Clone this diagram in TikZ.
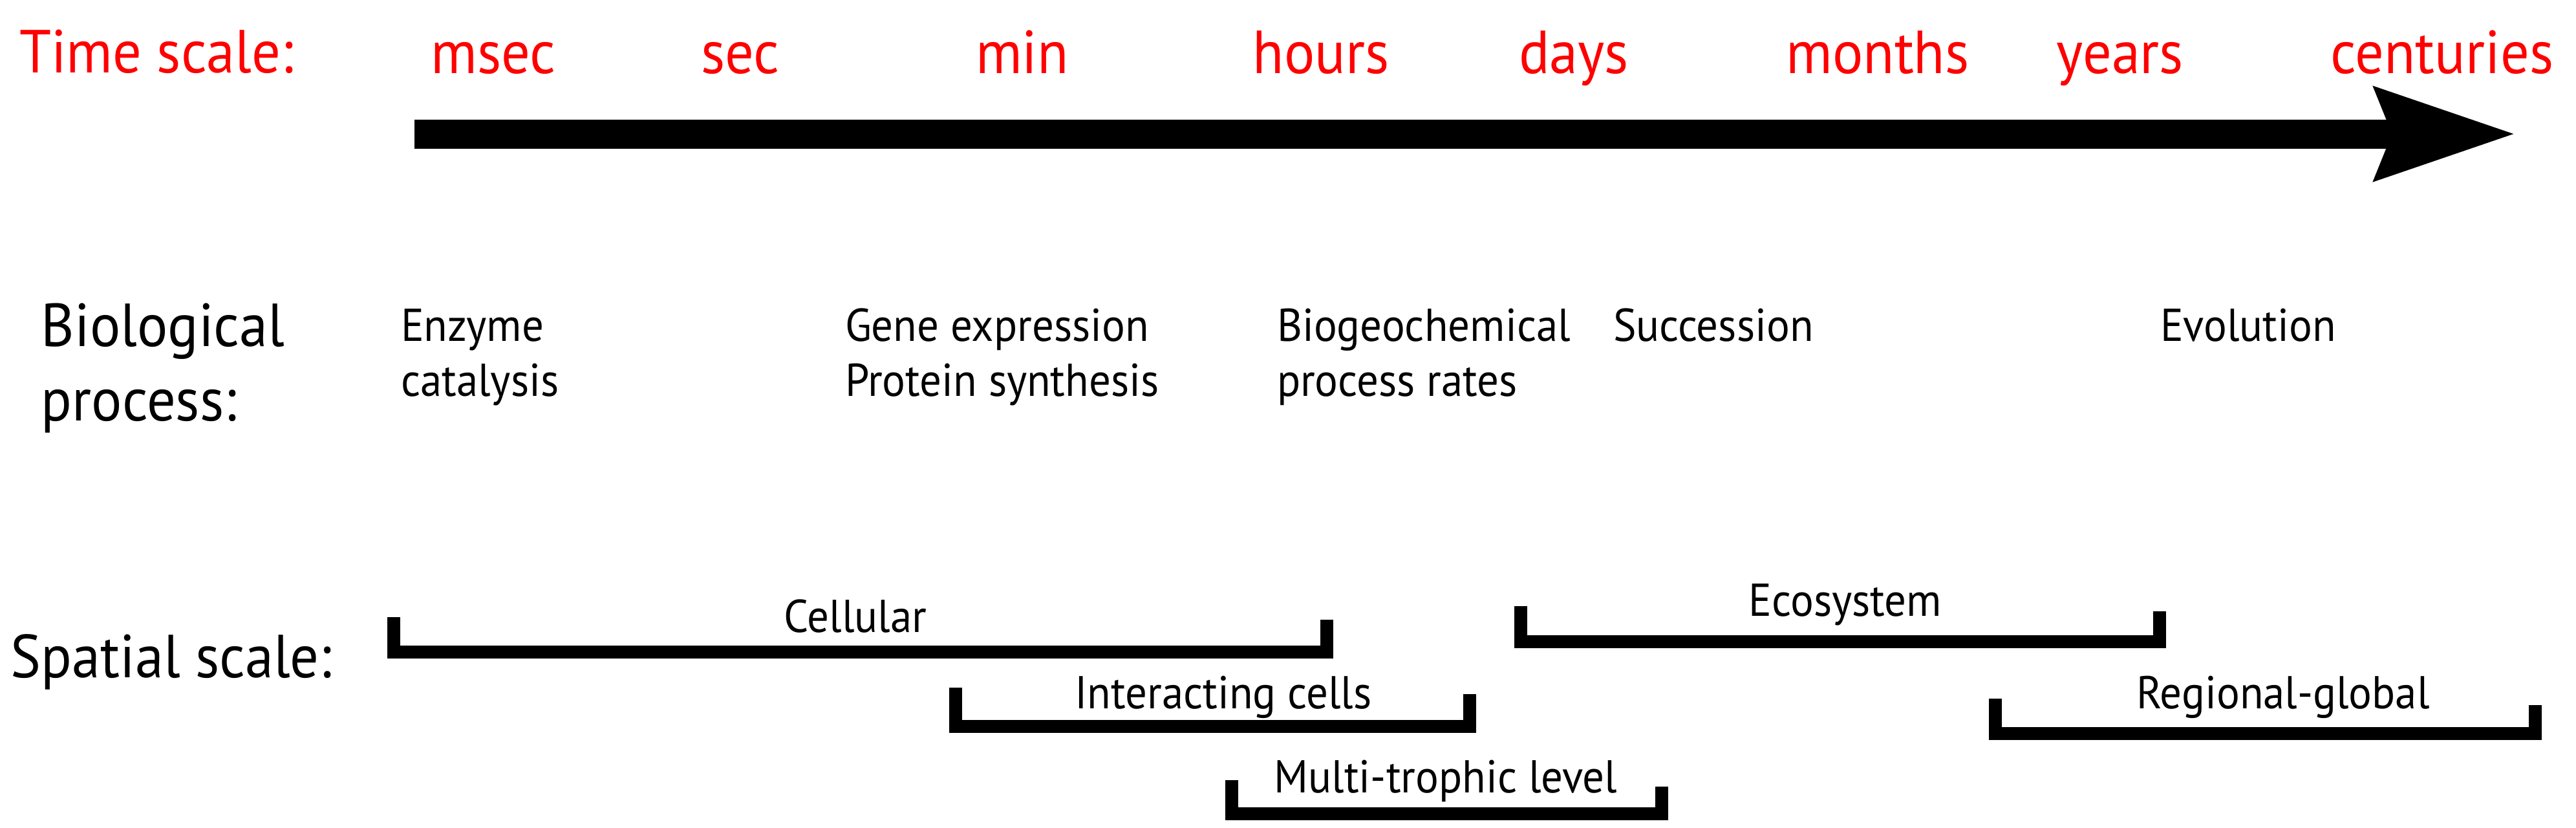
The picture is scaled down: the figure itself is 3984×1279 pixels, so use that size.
\documentclass[tikz,border=0pt]{standalone}
\usepackage{fontspec}
\setmainfont{PT Sans}[FakeStretch=0.94]
\usetikzlibrary{arrows.meta}
\definecolor{tred}{RGB}{255,0,0}
\tikzset{
  biglbl/.style={inner sep=0pt, outer sep=0pt, anchor=base west, font=\fontsize{23.5}{28}\selectfont},
  timelbl/.style={inner sep=0pt, outer sep=0pt, anchor=base, text=tred, font=\fontsize{23.5}{28}\selectfont},
  proclbl/.style={inner sep=0pt, outer sep=0pt, anchor=base west, font=\fontsize{17.8}{21}\selectfont},
  brlbl/.style={inner sep=0pt, outer sep=0pt, anchor=base, font=\fontsize{17.8}{21}\selectfont},
  bracketline/.style={line width=5pt, line join=miter, line cap=butt, black},
  timearrow/.style={line width=11.25pt, line cap=butt, -{Stealth[length=53.75pt, width=34.25pt, inset=5.75pt]}}
}
\begin{document}
\begin{tikzpicture}[x=0.25pt, y=-0.25pt]
\useasboundingbox (0,0) rectangle (3984,1279);
% time row
\node[biglbl, text=tred] (tlabel) at (30,112) {Time scale:};
\node[timelbl] (msec) at (763,113) {msec};
\node[timelbl] (sec) at (1145,113) {sec};
\node[timelbl] (min) at (1581,113) {min};
\node[timelbl] (hours) at (2043,113) {hours};
\node[timelbl] (days) at (2434,113) {days};
\node[timelbl] (months) at (2904,113) {months};
\node[timelbl] (years) at (3279,113) {years};
\node[timelbl] (centuries) at (3777,113) {centuries};
% arrow
\coordinate (ts) at (641,207);
\coordinate (te) at (3892,207);
\draw[timearrow] (ts) -- (te);
% biological process row
\node[biglbl] (bio1) at (64,535) {Biological};
\node[biglbl] (bio2) at (64,650) {process:};
\node[proclbl] (enz1) at (620,527) {Enzyme};
\node[proclbl] (enz2) at (620,612) {catalysis};
\node[proclbl] (gene1) at (1307,527) {Gene expression};
\node[proclbl] (gene2) at (1307,612) {Protein synthesis};
\node[proclbl] (bgc1) at (1975,527) {Biogeochemical};
\node[proclbl] (bgc2) at (1975,612) {process rates};
\node[proclbl] (succ) at (2495,527) {Succession};
\node[proclbl] (evol) at (3341,527) {Evolution};
% spatial scale
\node[biglbl] (spat) at (17,1047) {Spatial scale:};
\draw[bracketline] (609,954) -- (609,1008) -- (2052,1008) -- (2052,958);
\node[brlbl] (cell) at (1323,977) {Cellular};
\draw[bracketline] (1478,1063) -- (1478,1123) -- (2273,1123) -- (2273,1073);
\node[brlbl] (inter) at (1892,1095) {Interacting cells};
\draw[bracketline] (1905,1206) -- (1905,1258) -- (2570,1258) -- (2570,1216);
\node[brlbl] (multi) at (2236,1225) {Multi-trophic level};
\draw[bracketline] (2352,937) -- (2352,992) -- (3340,992) -- (3340,945);
\node[brlbl] (eco) at (2854,952) {Ecosystem};
\draw[bracketline] (3086,1080) -- (3086,1134) -- (3921,1134) -- (3921,1090);
\node[brlbl] (reg) at (3531,1095) {Regional-global};
\end{tikzpicture}
\end{document}
